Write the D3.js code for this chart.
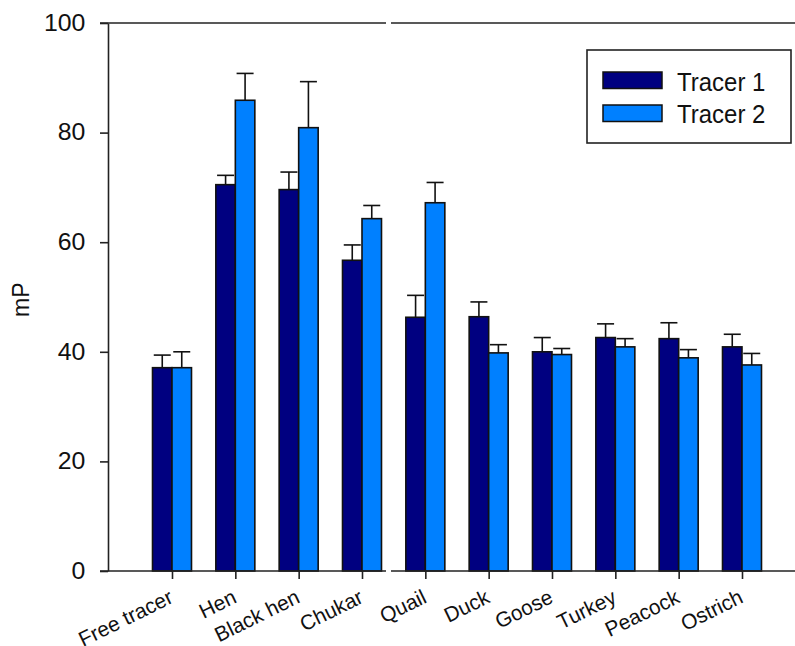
<!DOCTYPE html>
<meta charset="utf-8">
<style>
body { margin: 0; padding: 0; background: white; }
svg text { font-family: "Liberation Sans", Arial, sans-serif; fill: #111; }
</style>
<script src="https://d3js.org/d3.v7.min.js"></script>
<div id="chart"></div>
<script>

// data
const categories = ["Free tracer", "Hen", "Black hen", "Chukar", "Quail", "Duck", "Goose", "Turkey", "Peacock", "Ostrich"];
const series = ["Tracer 1", "Tracer 2"];
const tracer1 = [37.1, 70.5, 69.6, 56.7, 46.3, 46.4, 40.0, 42.6, 42.4, 40.9];
const tracer1Err = [2.3, 1.7, 3.2, 2.8, 4.0, 2.7, 2.6, 2.5, 2.9, 2.3];
const tracer2 = [37.1, 85.9, 80.9, 64.3, 67.2, 39.8, 39.5, 40.9, 38.9, 37.6];
const tracer2Err = [2.9, 4.9, 8.4, 2.4, 3.7, 1.5, 1.1, 1.5, 1.5, 2.1];
const yTicks = [0, 20, 40, 60, 80, 100];
const colors = ["#000080", "#0080ff"];

const margin = {top: 23, right: 0, bottom: 75, left: 108},
    width = 795 - margin.left - margin.right,
    height = 646 - margin.top - margin.bottom;

const svg = d3.select("#chart")
  .append("svg")
    .attr("width", 795)
    .attr("height", 646)
  .append("g")
    .attr("transform", `translate(${margin.left},${margin.top})`);

const x = d3.scalePoint()
  .domain(categories)
  .range([64, 634]);

const xSub = d3.scaleBand()
  .domain(series)
  .range([-19.5, 19.5]);

const y = d3.scaleLinear()
  .domain([0, 100])
  .range([height, 0]);

// flatten into bar records
const bars = [];
categories.forEach((c, i) => {
  bars.push({cat: c, s: series[0], v: tracer1[i], e: tracer1Err[i], col: colors[0]});
  bars.push({cat: c, s: series[1], v: tracer2[i], e: tracer2Err[i], col: colors[1]});
});

// error bars (drawn first so bar outline sits on top)
const eb = svg.append("g").attr("stroke", "#111").attr("stroke-width", 1.6);
eb.selectAll("line.v")
  .data(bars)
  .join("line")
    .attr("x1", d => x(d.cat) + xSub(d.s) + xSub.bandwidth() / 2)
    .attr("x2", d => x(d.cat) + xSub(d.s) + xSub.bandwidth() / 2)
    .attr("y1", d => y(d.v))
    .attr("y2", d => y(d.v + d.e));
eb.selectAll("line.cap")
  .data(bars)
  .join("line")
    .attr("x1", d => x(d.cat) + xSub(d.s) + xSub.bandwidth() / 2 - 8.5)
    .attr("x2", d => x(d.cat) + xSub(d.s) + xSub.bandwidth() / 2 + 8.5)
    .attr("y1", d => y(d.v + d.e))
    .attr("y2", d => y(d.v + d.e));

// bars
svg.append("g")
  .selectAll("rect")
  .data(bars)
  .join("rect")
    .attr("x", d => x(d.cat) + xSub(d.s))
    .attr("y", d => y(d.v))
    .attr("width", xSub.bandwidth())
    .attr("height", d => y(0) - y(d.v))
    .attr("fill", d => d.col)
    .attr("stroke", "#111")
    .attr("stroke-width", 1.6);

// Y axis
const yAxis = svg.append("g")
  .call(d3.axisLeft(y).tickValues(yTicks).tickSize(8).tickSizeOuter(0).tickPadding(13));
yAxis.select(".domain").attr("stroke", "#222").attr("stroke-width", 1.6);
yAxis.selectAll(".tick line").attr("stroke", "#222").attr("stroke-width", 1.6);
yAxis.selectAll("text").style("font-size", "23px")
  .attr("transform", "scale(1.08,1)");

// X axis (ticks + rotated labels)
const xAxis = svg.append("g")
  .attr("transform", `translate(0,${height})`)
  .call(d3.axisBottom(x).tickSize(8).tickSizeOuter(0));
xAxis.select(".domain").remove();
xAxis.selectAll(".tick line").attr("stroke", "#222").attr("stroke-width", 1.6);
xAxis.selectAll("text")
  .style("font-size", "20px")
  .attr("text-anchor", "end")
  .attr("y", 0).attr("dy", 0)
  .attr("transform", "translate(2,31) scale(1.04,1.05) rotate(-26)");

// broken top and bottom frame lines
const breakL = x("Chukar") + 24, breakR = x("Chukar") + 29;
const frame = svg.append("g").attr("stroke", "#222").attr("stroke-width", 1.6);
[0, height].forEach(yy => {
  frame.append("line").attr("x1", -8).attr("x2", breakL).attr("y1", yy).attr("y2", yy);
  frame.append("line").attr("x1", breakR).attr("x2", width + 5).attr("y1", yy).attr("y2", yy);
});

// y label
svg.append("text")
  .attr("transform", `translate(-79,${y(49.5)}) scale(1.08,1) rotate(-90)`)
  .attr("text-anchor", "middle")
  .style("font-size", "23px")
  .text("mP");

// legend
const lg = svg.append("g").attr("transform", `translate(${587 - margin.left},${50 - margin.top})`);
lg.append("rect")
  .attr("width", 204).attr("height", 93)
  .attr("fill", "white").attr("stroke", "#222").attr("stroke-width", 1.6);
series.forEach((s, i) => {
  lg.append("rect")
    .attr("x", 16).attr("y", 22 + i * 33)
    .attr("width", 59).attr("height", 16.5)
    .attr("fill", colors[i]).attr("stroke", "#111").attr("stroke-width", 1.5);
  lg.append("text")
    .attr("transform", `translate(90,${41 + i * 32}) scale(1,1.1)`)
    .style("font-size", "24px")
    .text(s);
});

</script>
